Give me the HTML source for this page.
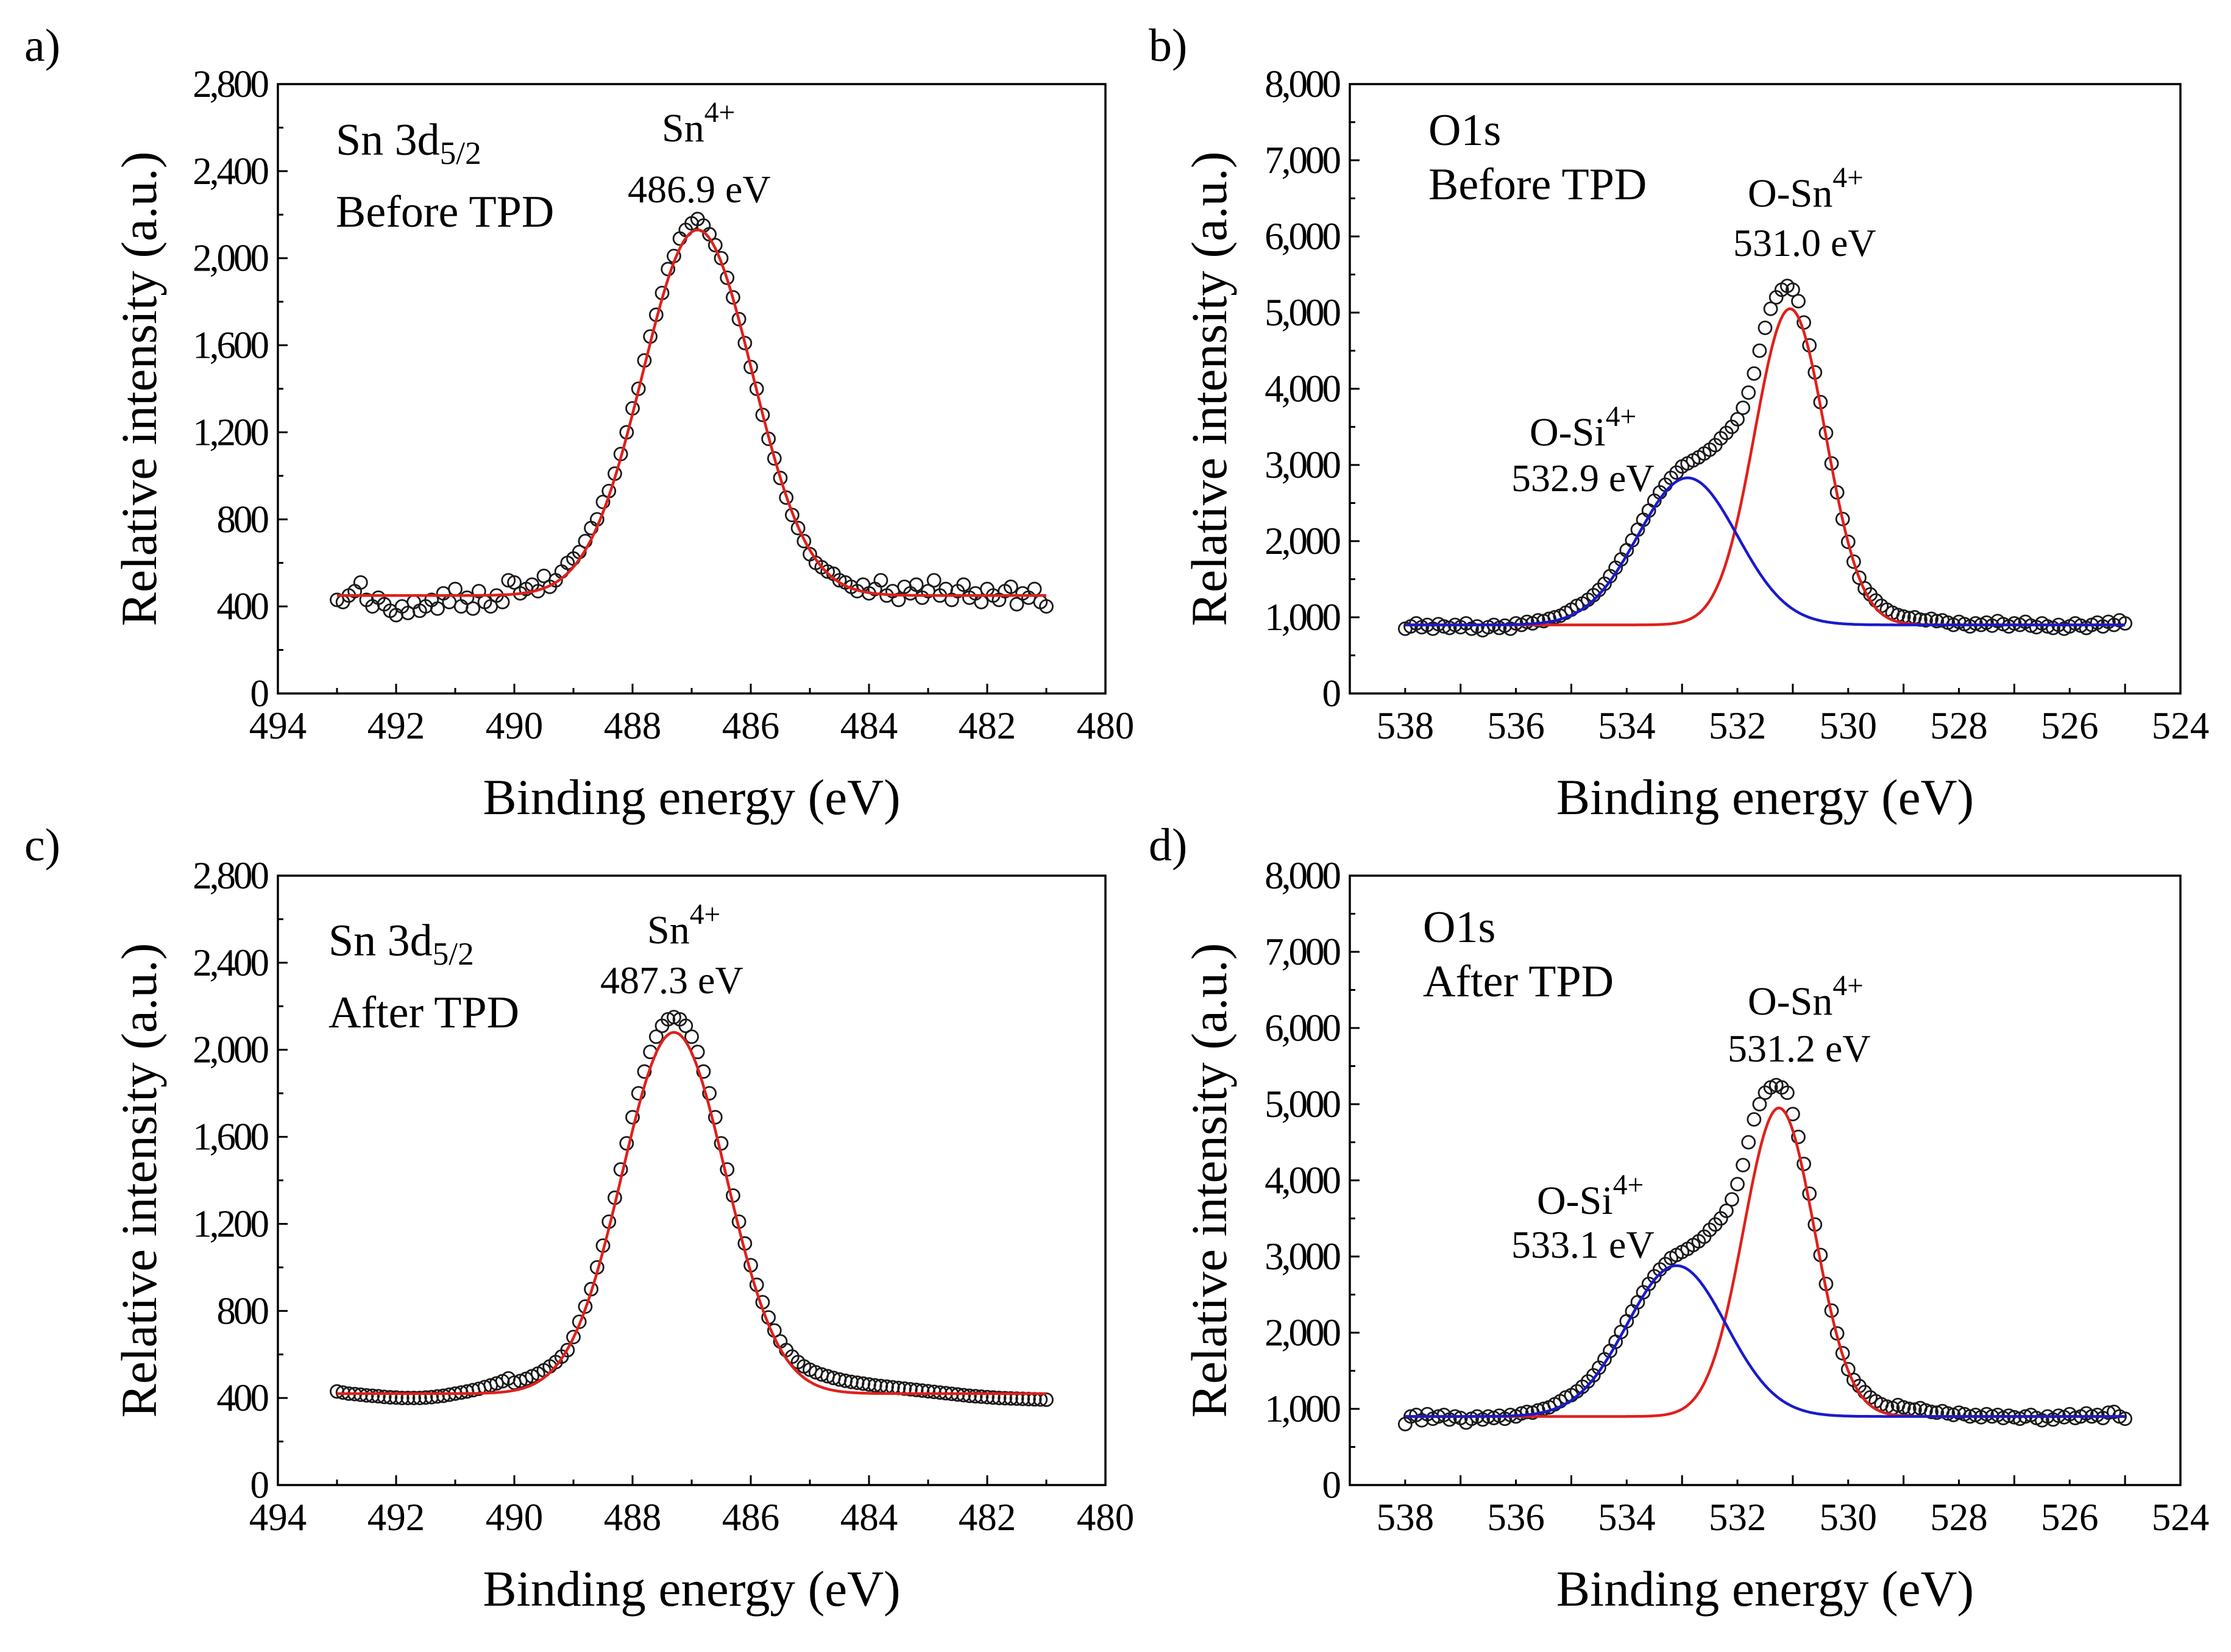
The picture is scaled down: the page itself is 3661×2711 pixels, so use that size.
<!DOCTYPE html>
<html><head><meta charset="utf-8"><style>
html,body{margin:0;padding:0;background:#fff;}
svg{display:block;font-family:"Liberation Serif",serif;}
</style></head><body>
<svg id="fig" width="3661" height="2711" viewBox="0 0 3661 2711" xmlns="http://www.w3.org/2000/svg"></svg>
<script>
// ---- data ----
const snBeforeStart = 493.0, snStep = 0.1;
const snBeforeIntensity = [430,420,450,470,510,430,400,440,410,380,360,400,370,420,380,400,430,390,460,420,480,400,440,390,470,420,400,450,420,520,510,460,480,500,470,540,490,520,560,600,620,
650,700,760,800,880,930,1010,1100,1200,1310,1400,1530,1640,1740,1840,1950,2010,2090,2130,2160,2180,2150,2110,2060,2000,1910,1820,1720,1610,1500,1400,1280,1170,1080,990,900,820,760,700,640,600,
580,560,550,520,510,490,470,500,460,480,520,450,470,430,490,460,500,440,470,520,450,480,430,470,500,440,460,420,480,450,430,470,490,410,460,440,480,420,400];
const snAfterIntensity = [430,425,420,418,415,412,410,408,405,403,402,400,400,400,400,402,404,407,410,415,420,425,430,436,442,450,458,467,477,490,
470,478,488,500,512,527,545,565,590,620,
680,750,820,900,1000,1100,1210,1320,1450,1570,1690,1800,1900,1990,2060,2110,2140,2150,
2140,2110,2060,1990,1900,1800,1690,1570,1450,1330,1210,1110,1010,920,840,770,710,660,620,590,565,545,530,518,
508,500,492,485,479,474,470,466,462,458,455,452,449,446,443,440,437,434,431,428,425,422,419,416,413,410,408,406,404,402,400,399,398,397,396,395,394,393,392];
const o1sStart = 538.0, o1sStep = 0.1;
const o1sBeforeIntensity = [850,880,920,870,900,850,910,880,860,900,870,920,850,880,830,870,900,860,890,850,920,900,940,920,
960,950,980,1000,1020,1060,1100,1150,1180,1230,1290,1360,1440,1540,1650,1760,1880,2010,2150,2280,2400,2530,2640,2740,2830,2900,2980,3020,3060,3100,3150,3200,3260,3350,3420,3500,3600,3750,3950,4200,4500,4800,5050,5200,5300,5350,5300,5150,4870,4570,4215,3825,3420,3020,2640,2290,1990,1730,1520,1380,1300,1220,1150,1100,1060,1030,1010,
990,1000,970,960,980,950,960,930,900,940,
910,880,920,900,930,890,950,910,880,920,900,940,890,870,920,880,860,900,850,880,920,890,860,900,930,880,940,900,960,920];
const o1sAfterIntensity = [800,900,920,850,930,870,900,920,860,900,880,820,870,900,860,900,880,910,870,920,900,940,
960,950,980,1000,1020,1060,1100,1150,1180,1230,1290,1360,1440,1540,1650,1760,1880,2010,2150,2280,2400,2530,2640,2740,2830,2900,2980,3020,3060,3100,3150,3200,3260,3350,3420,3500,3600,3750,3950,4200,4500,4800,5000,5150,5220,5250,5220,5150,4870,4570,4215,3825,3420,3020,2640,2290,1990,1730,1520,1380,1300,1220,1150,1100,1060,1030,1010,
1050,1020,1000,990,1010,980,960,950,970,940,920,950,930,900,920,890,930,900,920,880,910,890,870,900,920,880,850,900,860,910,890,930,880,900,940,900,920,880,950,960,900,870];
// fit peak parameters: [center, amplitude, sigma, baseline, color]
const fitA = [[486.9,1680,0.93,450,'#e0201b']];
const fitB = [[531.05,4150,0.64,900,'#e0201b'],[532.9,1930,0.9,900,'#1a1acc']];
const fitC = [[487.3,1660,0.88,420,'#e0201b']];
const fitD = [[531.25,4050,0.64,900,'#e0201b'],[533.1,1980,0.9,900,'#1a1acc']];
const snYTicks = [0,400,800,1200,1600,2000,2400,2800];
const snYLabels = ['0','400','800','1,200','1,600','2,000','2,400','2,800'];
const oYTicks = [0,1000,2000,3000,4000,5000,6000,7000,8000];
const oYLabels = ['0','1,000','2,000','3,000','4,000','5,000','6,000','7,000','8,000'];
const snXTicks = [494,492,490,488,486,484,482,480];
const oXTicks = [538,536,534,532,530,528,526,524];

const NS='http://www.w3.org/2000/svg';
const svg=document.getElementById('fig');
function mk(tag,attrs,parent){const e=document.createElementNS(NS,tag);for(const k in attrs)e.setAttribute(k,attrs[k]);(parent||svg).appendChild(e);return e;}

function panel(p){
  const g=mk('g',{});
  
  
  const L=p.L,R=p.R,T=p.T,B=p.B;
  const sx=v=>L+(p.x0-v)/(p.x0-p.x1)*(R-L);
  const sy=v=>B-(v-p.y0)/(p.y1-p.y0)*(B-T);
  for(let v=p.x1;v<=p.x0;v+=1){const X=sx(v);const major=(p.x0-v)%2===0;
    const t=mk('line',{x1:X,x2:X,y1:B,y2:B-(major?16:9),stroke:'#000','stroke-width':3},g);
    }
  p.xt.forEach(v=>{const t=mk('text',{x:sx(v),y:B+74,'font-size':63,'text-anchor':'middle'},g);t.textContent=v;
    });
  for(let v=p.y0;v<=p.y1;v+=p.minor){const Y=sy(v);const major=(v%p.major)===0;
    const t=mk('line',{x1:L,x2:L+(major?16:9),y1:Y,y2:Y,stroke:'#000','stroke-width':3},g);
    }
  p.yt.forEach((v,i)=>{const t=mk('text',{x:L-18,y:sy(v)+21,'font-size':63,'text-anchor':'end','letter-spacing':-4},g);t.textContent=p.yl[i];
    });
  p.data.forEach((v,i)=>{const x=p.start-i*p.step;
    const c=mk('circle',{cx:sx(x),cy:sy(v),r:10.5,fill:'none',stroke:'#1a1a1a','stroke-width':2.8},g);
    });
  p.fits.forEach(f=>{let d='';
    for(let k=0;k<=600;k++){const x=p.start-(p.start-p.end)*k/600;
      const y=f[3]+f[1]*Math.exp(-((x-f[0])**2)/(2*f[2]*f[2]));d+=(k?'L':'M')+sx(x).toFixed(1)+','+sy(y).toFixed(1);}
    const pa=mk('path',{d:d,fill:'none',stroke:f[4],'stroke-width':4.5},g);
    });
  const fr=mk('rect',{x:L,y:T,width:R-L,height:B-T,fill:'none',stroke:'#000','stroke-width':3.5},g);
  
  const xt=mk('text',{x:(L+R)/2,y:B+198,'font-size':83,'text-anchor':'middle'},g);xt.textContent='Binding energy (eV)';
  
  const cy=(T+B)/2, cx=p.ytx;
  const yt=mk('text',{x:cx,y:cy,'font-size':83,'text-anchor':'middle',transform:`rotate(-90 ${cx} ${cy})`},g);yt.textContent='Relative intensity (a.u.)';
  
  const pl=mk('text',{x:p.lx,y:p.ly,'font-size':76},g);pl.textContent=p.letter;
  
  p.ann.forEach(a=>{const t=mk('text',{x:a[0],y:a[1],'font-size':a[3]},g);
    
    if(Array.isArray(a[2])){t.appendChild(document.createTextNode(a[2][0]));
      const s=mk('tspan',{dy:a[2][2]==='sub'?15:-32,'font-size':a[3]*0.72},t);s.textContent=a[2][1];}
    else t.textContent=a[2];});
}

panel({name:'panel-a',L:456,R:1814,T:138,B:1138,x0:494,x1:480,y0:0,y1:2800,major:400,minor:200,xt:snXTicks,yt:snYTicks,yl:snYLabels,
  data:snBeforeIntensity,start:snBeforeStart,step:snStep,end:481,fits:fitA,ytx:256,lx:40,ly:100,letter:'a)',
  ann:[[551,254,['Sn 3d','5/2','sub'],74],[551,372,'Before TPD',74],[1086,232,['Sn','4+','sup'],66],[1030,332,'486.9 eV',64]]});
panel({name:'panel-b',L:2215,R:3578,T:138,B:1138,x0:539,x1:524,y0:0,y1:8000,major:1000,minor:500,xt:oXTicks,yt:oYTicks,yl:oYLabels,
  data:o1sBeforeIntensity,start:o1sStart,step:o1sStep,end:525,fits:fitB,ytx:2012,lx:1885,ly:100,letter:'b)',
  ann:[[2344,238,'O1s',74],[2344,327,'Before TPD',74],[2868,339,['O-Sn','4+','sup'],66],[2844,420,'531.0 eV',64],[2510,731,['O-Si','4+','sup'],66],[2480,806,'532.9 eV',64]]});
panel({name:'panel-c',L:456,R:1814,T:1437,B:2437,x0:494,x1:480,y0:0,y1:2800,major:400,minor:200,xt:snXTicks,yt:snYTicks,yl:snYLabels,
  data:snAfterIntensity,start:snBeforeStart,step:snStep,end:481,fits:fitC,ytx:256,lx:40,ly:1412,letter:'c)',
  ann:[[539,1568,['Sn 3d','5/2','sub'],74],[539,1686,'After TPD',74],[1062,1548,['Sn','4+','sup'],66],[985,1630,'487.3 eV',64]]});
panel({name:'panel-d',L:2215,R:3578,T:1437,B:2437,x0:539,x1:524,y0:0,y1:8000,major:1000,minor:500,xt:oXTicks,yt:oYTicks,yl:oYLabels,
  data:o1sAfterIntensity,start:o1sStart,step:o1sStep,end:525,fits:fitD,ytx:2012,lx:1885,ly:1412,letter:'d)',
  ann:[[2335,1546,'O1s',74],[2335,1635,'After TPD',74],[2868,1665,['O-Sn','4+','sup'],66],[2835,1742,'531.2 eV',64],[2522,1992,['O-Si','4+','sup'],66],[2480,2064,'533.1 eV',64]]});
</script>
</body></html>
